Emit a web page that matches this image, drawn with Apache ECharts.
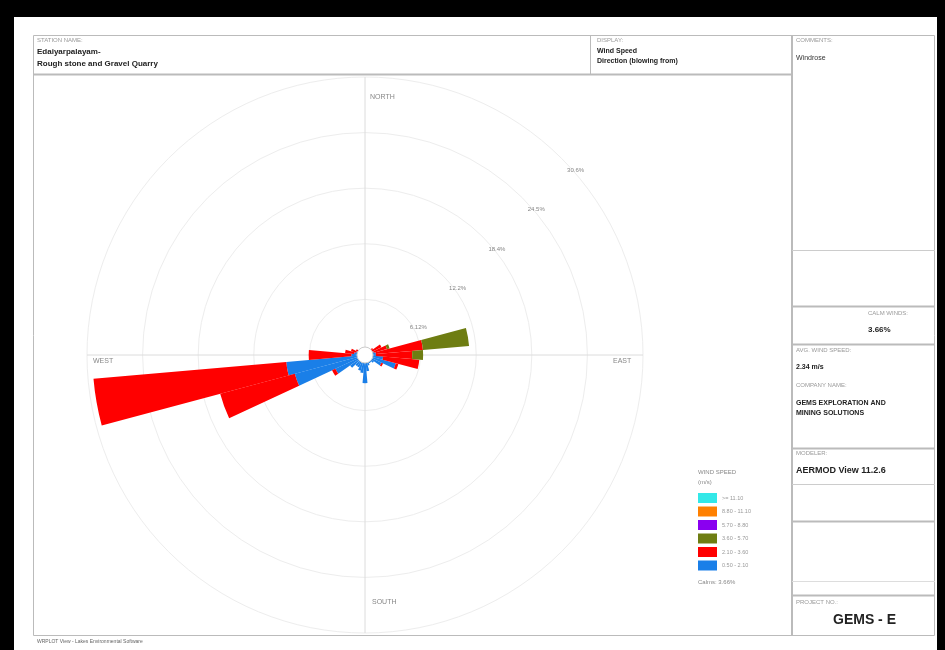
<!DOCTYPE html>
<html>
<head>
<meta charset="utf-8">
<script src="https://cdn.jsdelivr.net/npm/echarts@6/dist/echarts.min.js"></script>
<style>
html,body{margin:0;padding:0;background:#000;}
#chart{width:945px;height:650px;}
</style>
</head>
<body>
<div id="chart"></div>
<script>
// ---- data ----
var directions = ['360','10','20','30','40','50','60','70','80','90','100','110','120','130','140','150','160','170','180','190','200','210','220','230','240','250','260','270','280','290','300','310','320','330','340','350'];
var speedClasses = ['>= 11.10','8.80 - 11.10','5.70 - 8.80','3.60 - 5.70','2.10 - 3.60','0.50 - 2.10'];
var ws_050_210 = [0.6,0.4,0.4,0.4,0.5,0.6,0.8,1.0,1.2,1.2,2.0,3.5,2.0,1.2,1.0,1.0,1.2,1.8,3.1,2.0,1.8,1.5,1.5,2.0,3.6,8.0,8.7,1.5,1.2,1.0,0.8,0.6,0.5,0.5,0.5,0.5];
var ws_210_360 = [0.2,0.1,0.1,0.2,0.3,0.5,1.2,1.5,5.2,4.0,4.0,0.3,0.2,0,0,0,0,0,0,0,0,0,0,0,0.4,8.5,21.3,4.7,1.0,0.6,0.3,0.2,0.1,0.1,0.1,0.1];
var ws_360_570 = [0,0,0,0,0,0,0,0.3,5.1,1.2,0,0,0,0,0,0,0,0,0,0,0,0,0,0,0,0,0,0,0,0,0,0,0,0,0,0];
var ws_570_880 = [0,0,0,0,0,0,0,0,0,0,0,0,0,0,0,0,0,0,0,0,0,0,0,0,0,0,0,0,0,0,0,0,0,0,0,0];
var ws_880_1110 = [0,0,0,0,0,0,0,0,0,0,0,0,0,0,0,0,0,0,0,0,0,0,0,0,0,0,0,0,0,0,0,0,0,0,0,0];
var ws_1110_up = [0,0,0,0,0,0,0,0,0,0,0,0,0,0,0,0,0,0,0,0,0,0,0,0,0,0,0,0,0,0,0,0,0,0,0,0];
var ringValues = [6.12, 12.24, 18.36, 24.48, 30.6];
var ringLabels = ['6.12%', '12.2%', '18.4%', '24.5%', '30.6%'];
var ringMax = 30.6, ringStep = 6.12;
var calmWinds = '3.66%';

var colors = {
  '0.50 - 2.10':'#1a7fe8', '2.10 - 3.60':'#ff0000', '3.60 - 5.70':'#6e7d12',
  '5.70 - 8.80':'#8a00f0', '8.80 - 11.10':'#ff8000', '>= 11.10':'#33e8e8'
};

var chart = echarts.init(document.getElementById('chart'));
var CX = 365, CY = 355, R = 278;
function txt(x,y,s,opt){return {type:'text', left:x, top:y, z:50, style:Object.assign({text:s, fontFamily:'Liberation Sans', fontSize:6, fill:'#999'}, opt||{})};}
function hline(x1,x2,y,c,w){return {type:'line', z:40, shape:{x1:x1,y1:y,x2:x2,y2:y}, style:{stroke:c||'#bbb', lineWidth:w||1}};}
function vline(x,y1,y2,c,w){return {type:'line', z:40, shape:{x1:x,y1:y1,x2:x,y2:y2}, style:{stroke:c||'#bbb', lineWidth:w||1}};}

var graphics = [
  {type:'rect', z:0, shape:{x:14,y:17,width:923,height:633}, style:{fill:'#fff'}},
  {type:'rect', z:40, shape:{x:33.5,y:35.5,width:901,height:600}, style:{fill:'none', stroke:'#bbb', lineWidth:1}},
  hline(33,792,74.5,'#bbb',2),
  vline(590.5,35,74,'#bbb',1),
  vline(792,35,636,'#bbb',2),
  hline(792,935,250.5,'#ccc',1),
  hline(792,935,306.5,'#bbb',2),
  hline(792,935,344.5,'#bbb',2),
  hline(792,935,448.5,'#bbb',2),
  hline(792,935,484.5,'#ccc',1),
  hline(792,935,521.5,'#bbb',2),
  hline(792,935,581.5,'#ddd',1),
  hline(792,935,595.5,'#bbb',2),
  txt(37,37,'STATION NAME:'),
  txt(37,48,'Edaiyarpalayam-',{fontSize:8, fill:'#222', fontWeight:'bold'}),
  txt(37,60,'Rough stone and Gravel Quarry',{fontSize:8, fill:'#222', fontWeight:'bold'}),
  txt(597,37,'DISPLAY:'),
  txt(597,48,'Wind Speed',{fontSize:7, fill:'#222', fontWeight:'bold'}),
  txt(597,58,'Direction (blowing from)',{fontSize:7, fill:'#222', fontWeight:'bold'}),
  txt(796,37,'COMMENTS:'),
  txt(796,55,'Windrose',{fontSize:7, fill:'#333'}),
  txt(868,310,'CALM WINDS:'),
  txt(868,326,calmWinds,{fontSize:8, fill:'#222', fontWeight:'bold'}),
  txt(796,347,'AVG. WIND SPEED:'),
  txt(796,364,'2.34 m/s',{fontSize:7, fill:'#222', fontWeight:'bold'}),
  txt(796,382,'COMPANY NAME:'),
  txt(796,400,'GEMS EXPLORATION AND',{fontSize:7, fill:'#222', fontWeight:'bold'}),
  txt(796,410,'MINING SOLUTIONS',{fontSize:7, fill:'#222', fontWeight:'bold'}),
  txt(796,450,'MODELER:'),
  txt(796,466,'AERMOD View 11.2.6',{fontSize:9, fill:'#222', fontWeight:'bold'}),
  txt(796,599,'PROJECT NO.:'),
  txt(833,613,'GEMS - E',{fontSize:14, fill:'#222', fontWeight:'bold'}),
  txt(37,639,'WRPLOT View - Lakes Environmental Software',{fontSize:5, fill:'#666'}),
  txt(370,94,'NORTH',{fontSize:7, fill:'#888'}),
  txt(372,599,'SOUTH',{fontSize:7, fill:'#888'}),
  txt(93,358,'WEST',{fontSize:7, fill:'#888'}),
  txt(613,358,'EAST',{fontSize:7, fill:'#888'}),
  txt(698,469,'WIND SPEED',{fontSize:6, fill:'#888'}),
  txt(698,479,'(m/s)',{fontSize:6, fill:'#888'}),
  txt(698,579,'Calms: ' + calmWinds,{fontSize:6, fill:'#888'}),
  {type:'circle', z:30, shape:{cx:CX, cy:CY, r:8}, style:{fill:'#fff', stroke:'#ccc', lineWidth:1}}
];

var series = [];
var dataByClass = {
  '0.50 - 2.10':ws_050_210, '2.10 - 3.60':ws_210_360, '3.60 - 5.70':ws_360_570,
  '5.70 - 8.80':ws_570_880, '8.80 - 11.10':ws_880_1110, '>= 11.10':ws_1110_up
};
speedClasses.slice().reverse().forEach(function(k){
  series.push({name:k, type:'bar', coordinateSystem:'polar', polarIndex:0, stack:'wind',
    barCategoryGap:'0%', data:dataByClass[k], itemStyle:{color:colors[k]}, silent:true, z:10});
});
// ring labels along the NE diagonal
series.push({type:'scatter', coordinateSystem:'polar', polarIndex:1, symbolSize:0, silent:true, z:20,
  data:ringValues.map(function(v,i){return {value:[v,45], name:ringLabels[i]};}),
  label:{show:true, position:'inside', offset:[14,12], formatter:'{b}', fontSize:6, color:'#666', fontFamily:'Liberation Sans'}});

chart.setOption({
  animation:false,
  backgroundColor:'transparent',
  polar:[{center:[CX,CY], radius:R},{center:[CX,CY], radius:R},{center:[CX,CY], radius:R}],
  angleAxis:[
    {polarIndex:0, type:'category', data:directions, startAngle:95, clockwise:true, boundaryGap:true,
      axisLine:{show:false}, axisTick:{show:false}, axisLabel:{show:false}, splitLine:{show:false}},
    {polarIndex:1, type:'value', min:0, max:360, startAngle:90, clockwise:true, show:false},
    {polarIndex:2, type:'category', data:['N','E','S','W'], startAngle:90, boundaryGap:false, clockwise:true,
      axisLine:{show:false}, axisTick:{show:false}, axisLabel:{show:false},
      splitLine:{show:true, lineStyle:{color:'#dcdcdc', width:1}}}
  ],
  radiusAxis:[
    {polarIndex:0, type:'value', min:0, max:ringMax, interval:ringStep,
      axisLine:{show:false}, axisTick:{show:false}, axisLabel:{show:false},
      splitLine:{show:true, lineStyle:{color:'#ededed', width:1}}},
    {polarIndex:1, type:'value', min:0, max:ringMax, show:false},
    {polarIndex:2, type:'value', min:0, max:ringMax, show:false}
  ],
  legend:{data:speedClasses, orient:'vertical', left:698, top:493, padding:0, itemWidth:19, itemHeight:10, itemGap:3.5,
    textStyle:{fontSize:5.5, color:'#999', fontFamily:'Liberation Sans'}, selectedMode:false, icon:'rect'},
  series:series,
  graphic:graphics
});
</script>
</body>
</html>
